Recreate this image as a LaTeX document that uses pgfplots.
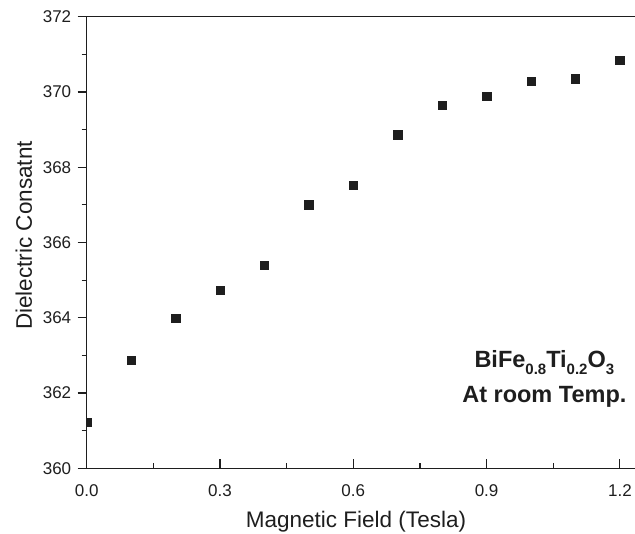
\documentclass[border=0pt]{standalone}
\usepackage{pgfplots}
\pgfplotsset{compat=1.18}
\usepackage{fontspec}
\setmainfont{Liberation Sans}
\definecolor{ink}{HTML}{1E1E1E}
\newcommand{\sub}[1]{\raisebox{-7.5pt}{\fontsize{15}{15}\selectfont #1}}

\begin{document}
\begin{tikzpicture}
  \begin{axis}[
    scale only axis,
    width=548.3pt, height=451.6pt,
    xmin=0, xmax=1.234,
    ymin=360, ymax=372,
    axis x line*=box,
    axis y line*=left,
    axis line style={ink, line width=1.2pt},
    xtick={0,0.3,...,1.21},
    ytick={360,362,...,372},
    minor x tick num=1,
    minor y tick num=1,
    xtick pos=bottom,
    ytick pos=left,
    xtick align=inside,
    ytick align=outside,
    major tick length=9pt,
    minor tick length=5pt,
    tick style={ink, line width=1.2pt},
    /pgf/number format/assume math mode=true,
    tick label style={font=\fontsize{17}{19}\selectfont, text=ink},
    xticklabel style={yshift=-13pt, /pgf/number format/.cd, fixed, fixed zerofill, precision=1},
    yticklabel style={xshift=-3pt},
    xlabel={Magnetic Field (Tesla)},
    ylabel={Dielectric Consatnt},
    every axis x label/.style={at={([xshift=269.3pt, yshift=-59.7pt]axis description cs:0,0)}, anchor=base,
      font=\fontsize{22.5}{26}\selectfont, text=ink},
    every axis y label/.style={at={([xshift=-54.7pt, yshift=232.8pt]axis description cs:0,0)}, anchor=base, rotate=90,
      font=\fontsize{22.5}{26}\selectfont, text=ink},
    clip mode=individual,
    clip marker paths=true,
    axis on top,
  ]
    \addplot[only marks, mark=square*, mark size=4.2pt, color=ink] coordinates {
      (0.0,361.23) (0.1,362.88) (0.2,363.99) (0.3,364.74) (0.4,365.40)
      (0.5,367.00) (0.6,367.53) (0.7,368.86) (0.8,369.65) (0.9,369.89)
      (1.0,370.29) (1.1,370.35) (1.2,370.85)};
    \node[font=\bfseries\fontsize{23.5}{27}\selectfont, text=ink, anchor=base]
      at (axis cs:1.03,362.69) {BiFe\sub{0.8}Ti\sub{0.2}O\sub{3}};
    \node[font=\bfseries\fontsize{23.5}{27}\selectfont, text=ink, anchor=base]
      at (axis cs:1.03,361.76) {At room Temp.};
  \end{axis}
  \pgfresetboundingbox
  \path (-86.7pt,-65.7pt) rectangle (548.3pt,468.3pt);
\end{tikzpicture}
\end{document}
